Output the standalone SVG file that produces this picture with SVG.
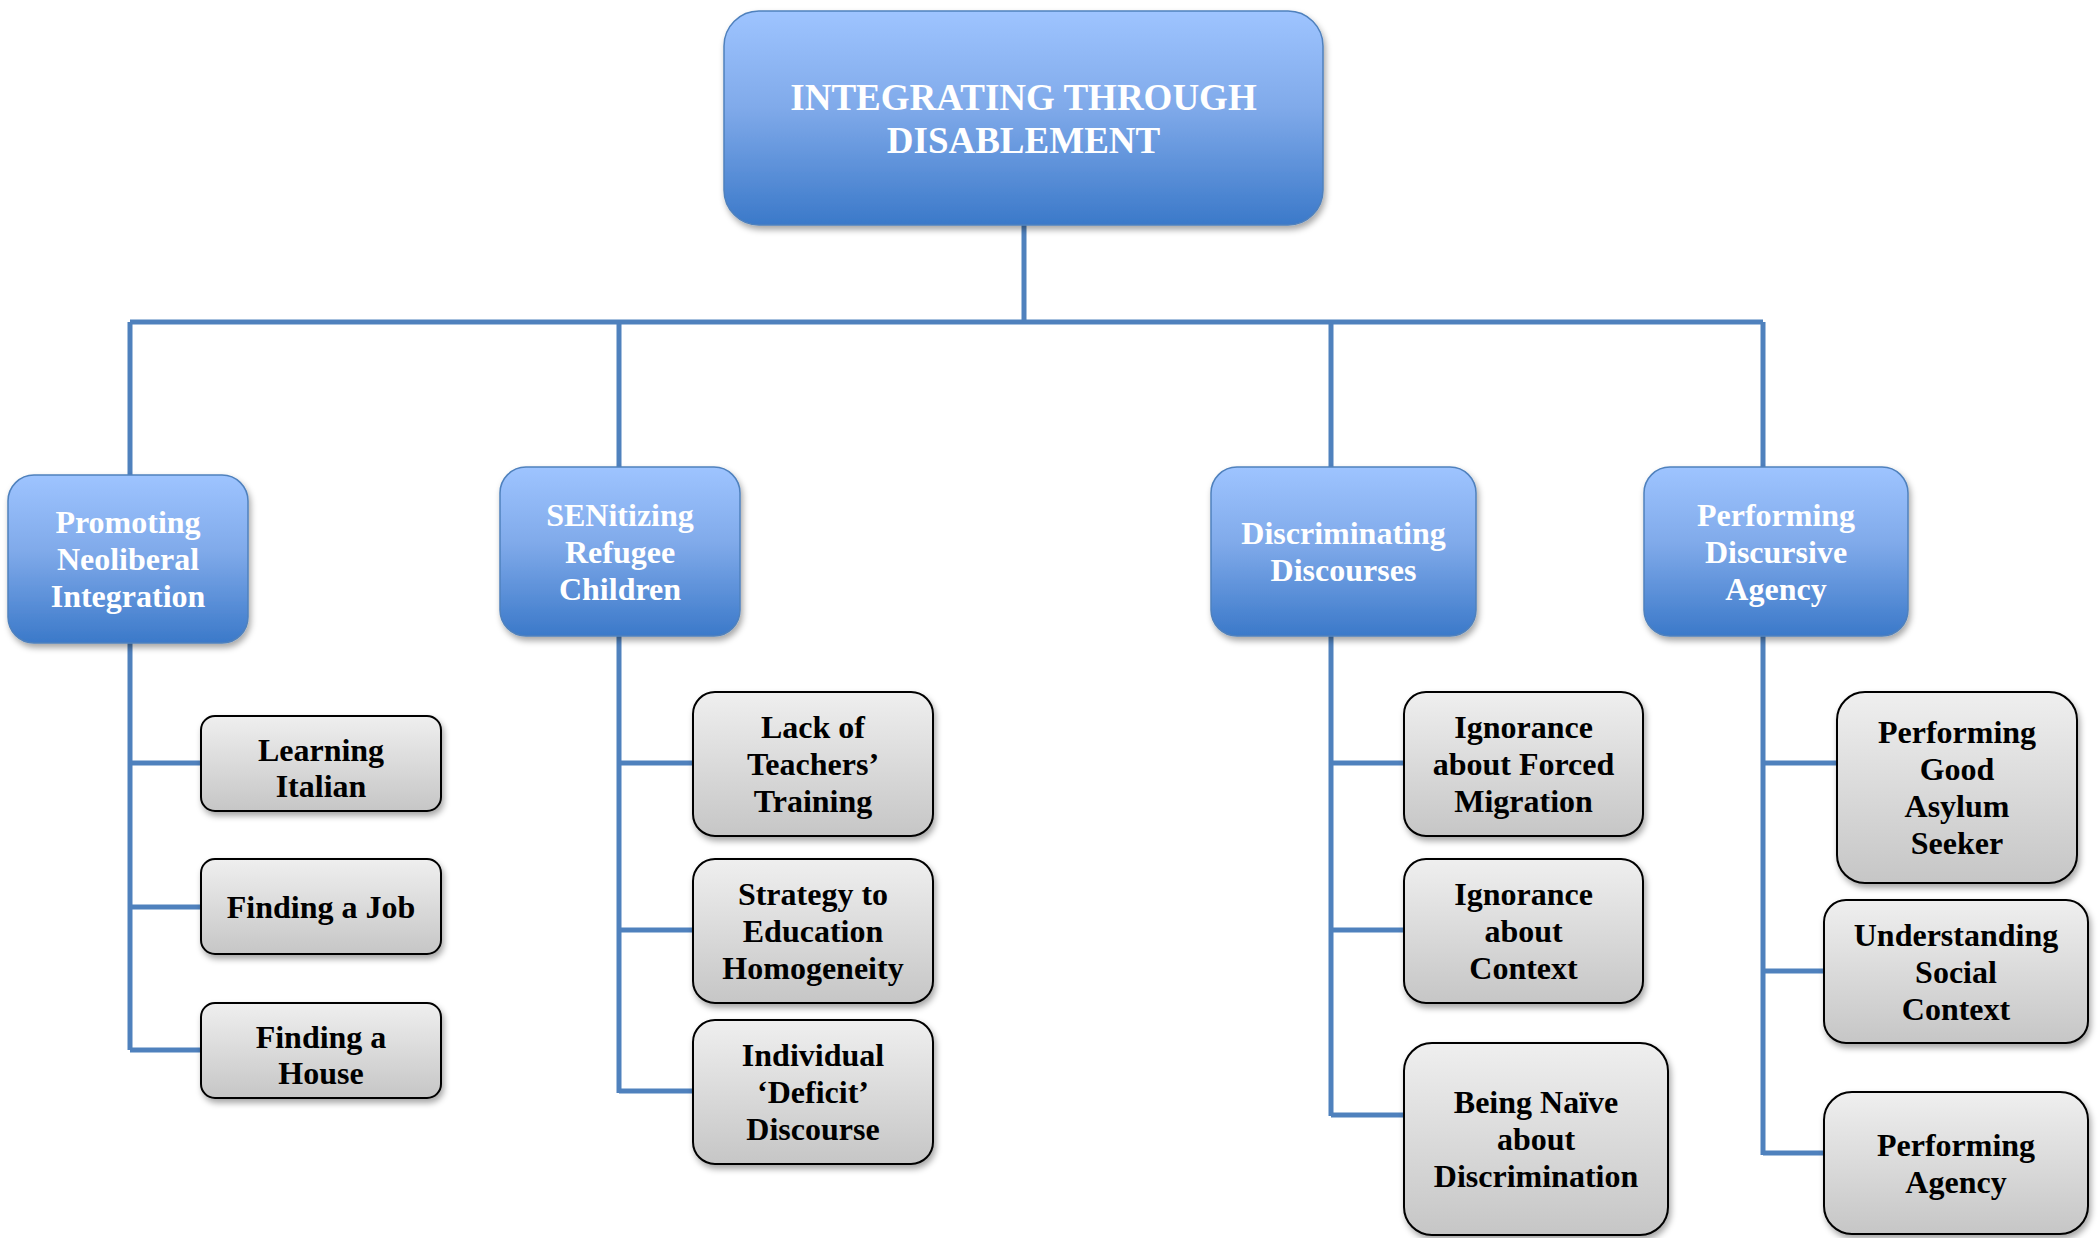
<svg xmlns="http://www.w3.org/2000/svg" width="2098" height="1238" viewBox="0 0 2098 1238">
  <defs>
    <linearGradient id="blueFill" x1="0" y1="0" x2="0" y2="1">
      <stop offset="0" stop-color="#9EC4FF"/>
      <stop offset="0.45" stop-color="#80AAEA"/>
      <stop offset="1" stop-color="#3B79C9"/>
    </linearGradient>
    <linearGradient id="greyFill" x1="0" y1="0" x2="0" y2="1">
      <stop offset="0" stop-color="#EFEFEF"/>
      <stop offset="1" stop-color="#C6C6C6"/>
    </linearGradient>
    <filter id="shadow" x="-10%" y="-10%" width="125%" height="130%">
      <feDropShadow dx="2" dy="4" stdDeviation="3" flood-color="#000" flood-opacity="0.35"/>
    </filter>
  </defs>
  <style>
    .main { fill: url(#blueFill); stroke: #4F81BD; stroke-width: 1.5; filter: url(#shadow); }
    .leaf { fill: url(#greyFill); stroke: #000; stroke-width: 2; filter: url(#shadow); }
    .wire { fill: none; stroke: #4F81BD; stroke-width: 5; }
    text { font-family: "Liberation Serif", "Times New Roman", serif; font-weight: bold; text-anchor: middle; }
    .wt { fill: #FFFFFF; font-size: 32px; }
    .bt { fill: #000000; font-size: 32px; }
    .title { fill: #FFFFFF; font-size: 37px; }
  </style>

  <rect width="2098" height="1238" fill="#FFFFFF"/>

  <!-- connectors -->
  <g id="connectors">
    <path class="wire" d="M1024 225 V322 M130 322 H1763 M130 322 V475 M619 322 V467 M1331 322 V467 M1763 322 V467"/>
    <path class="wire" d="M130 643 V1050 M130 763 H201 M130 907 H201 M130 1050 H201"/>
    <path class="wire" d="M619 636 V1093 M619 763 H693 M619 930 H693 M619 1091 H693"/>
    <path class="wire" d="M1331 636 V1116 M1331 763 H1404 M1331 930 H1404 M1331 1115 H1404"/>
    <path class="wire" d="M1763 636 V1155 M1763 763 H1837 M1763 971 H1824 M1763 1153 H1824"/>
  </g>

  <!-- root -->
  <g id="root">
    <rect class="main" x="724" y="11" width="599" height="214" rx="35"/>
    <text class="title" x="1023.5" y="110">INTEGRATING THROUGH</text>
    <text class="title" x="1023.5" y="153">DISABLEMENT</text>
  </g>

  <!-- themes -->
  <g id="theme-neoliberal">
    <rect class="main" x="8" y="475" width="240" height="168" rx="26"/>
    <text class="wt" x="128" y="533">Promoting</text>
    <text class="wt" x="128" y="570">Neoliberal</text>
    <text class="wt" x="128" y="607">Integration</text>
  </g>
  <g id="theme-senitizing">
    <rect class="main" x="500" y="467" width="240" height="169" rx="26"/>
    <text class="wt" x="620" y="525.5">SENitizing</text>
    <text class="wt" x="620" y="562.5">Refugee</text>
    <text class="wt" x="620" y="599.5">Children</text>
  </g>
  <g id="theme-discriminating">
    <rect class="main" x="1211" y="467" width="265" height="169" rx="26"/>
    <text class="wt" x="1343.5" y="544">Discriminating</text>
    <text class="wt" x="1343.5" y="581">Discourses</text>
  </g>
  <g id="theme-agency">
    <rect class="main" x="1644" y="467" width="264" height="169" rx="26"/>
    <text class="wt" x="1776" y="525.5">Performing</text>
    <text class="wt" x="1776" y="562.5">Discursive</text>
    <text class="wt" x="1776" y="599.5">Agency</text>
  </g>

  <!-- sub-themes: neoliberal integration -->
  <g id="learning-italian">
    <rect class="leaf" x="201" y="716" width="240" height="95" rx="14"/>
    <text class="bt" x="321" y="761">Learning</text>
    <text class="bt" x="321" y="797">Italian</text>
  </g>
  <g id="finding-job">
    <rect class="leaf" x="201" y="859" width="240" height="95" rx="14"/>
    <text class="bt" x="321" y="918">Finding a Job</text>
  </g>
  <g id="finding-house">
    <rect class="leaf" x="201" y="1003" width="240" height="95" rx="14"/>
    <text class="bt" x="321" y="1048">Finding a</text>
    <text class="bt" x="321" y="1084">House</text>
  </g>

  <!-- sub-themes: SENitizing -->
  <g id="teachers-training">
    <rect class="leaf" x="693" y="692" width="240" height="144" rx="22"/>
    <text class="bt" x="813" y="738">Lack of</text>
    <text class="bt" x="813" y="775">Teachers’</text>
    <text class="bt" x="813" y="812">Training</text>
  </g>
  <g id="education-homogeneity">
    <rect class="leaf" x="693" y="859" width="240" height="144" rx="22"/>
    <text class="bt" x="813" y="905">Strategy to</text>
    <text class="bt" x="813" y="942">Education</text>
    <text class="bt" x="813" y="979">Homogeneity</text>
  </g>
  <g id="deficit-discourse">
    <rect class="leaf" x="693" y="1020" width="240" height="144" rx="22"/>
    <text class="bt" x="813" y="1066">Individual</text>
    <text class="bt" x="813" y="1103">‘Deficit’</text>
    <text class="bt" x="813" y="1140">Discourse</text>
  </g>

  <!-- sub-themes: discriminating discourses -->
  <g id="ignorance-migration">
    <rect class="leaf" x="1404" y="692" width="239" height="144" rx="22"/>
    <text class="bt" x="1523.5" y="738">Ignorance</text>
    <text class="bt" x="1523.5" y="775">about Forced</text>
    <text class="bt" x="1523.5" y="812">Migration</text>
  </g>
  <g id="ignorance-context">
    <rect class="leaf" x="1404" y="859" width="239" height="144" rx="22"/>
    <text class="bt" x="1523.5" y="905">Ignorance</text>
    <text class="bt" x="1523.5" y="942">about</text>
    <text class="bt" x="1523.5" y="979">Context</text>
  </g>
  <g id="naive-discrimination">
    <rect class="leaf" x="1404" y="1043" width="264" height="192" rx="28"/>
    <text class="bt" x="1536" y="1113">Being Naïve</text>
    <text class="bt" x="1536" y="1150">about</text>
    <text class="bt" x="1536" y="1187">Discrimination</text>
  </g>

  <!-- sub-themes: discursive agency -->
  <g id="good-asylum-seeker">
    <rect class="leaf" x="1837" y="692" width="240" height="191" rx="28"/>
    <text class="bt" x="1957" y="743">Performing</text>
    <text class="bt" x="1957" y="780">Good</text>
    <text class="bt" x="1957" y="817">Asylum</text>
    <text class="bt" x="1957" y="854">Seeker</text>
  </g>
  <g id="social-context">
    <rect class="leaf" x="1824" y="900" width="264" height="143" rx="22"/>
    <text class="bt" x="1956" y="945.5">Understanding</text>
    <text class="bt" x="1956" y="982.5">Social</text>
    <text class="bt" x="1956" y="1019.5">Context</text>
  </g>
  <g id="performing-agency">
    <rect class="leaf" x="1824" y="1092" width="264" height="142" rx="28"/>
    <text class="bt" x="1956" y="1155.5">Performing</text>
    <text class="bt" x="1956" y="1192.5">Agency</text>
  </g>
</svg>
